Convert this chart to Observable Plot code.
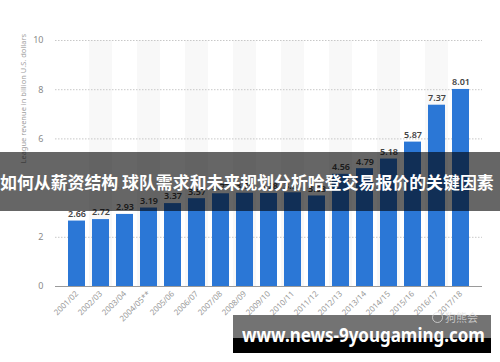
<!DOCTYPE html>
<html>
<head>
<meta charset="utf-8">
<script src="https://cdn.jsdelivr.net/npm/d3@7"></script>
<script src="https://cdn.jsdelivr.net/npm/@observablehq/plot@0.6"></script>
<style>
  html, body { margin: 0; padding: 0; background: #fff; }
  #wrap { position: relative; width: 500px; height: 362px; overflow: hidden; font-family: "Noto Sans", "Open Sans", sans-serif; }
  #banner { position: absolute; left: 0; top: 152px; width: 500px; height: 59px; background: rgba(0,0,0,0.6);
    color: #fff; font-family: "Noto Sans CJK SC", sans-serif; font-weight: 700; font-size: 16.9px; line-height: 59px;
    white-space: nowrap; letter-spacing: 0; }
  #foot-gray { position: absolute; left: 233px; top: 315px; width: 258px; height: 23px; background: rgba(0,0,0,0.55); }
  #foot-black { position: absolute; left: 233px; top: 338px; width: 258px; height: 15px; background: #000; }
  #foot-text { position: absolute; left: 242px; top: 321px; color: #fff; font-family: "Noto Sans", sans-serif; font-weight: 700;
    font-size: 19.5px; line-height: 28px; white-space: nowrap; transform: scaleX(0.87); transform-origin: left center; }
  #mark { position: absolute; left: 432px; top: 310px; color: rgba(225,225,225,0.75); font-family: "Noto Sans CJK SC", sans-serif;
    font-size: 11px; line-height: 14px; white-space: nowrap; }
  #mark span.c { display: inline-block; width: 9px; height: 9px; border: 1px solid rgba(225,225,225,0.75); border-radius: 50%; vertical-align: -1px; margin-right: 2px; }
</style>
</head>
<body>
<div id="wrap"></div>
<script>
const seasons = ["2001/02","2002/03","2003/04","2004/05**","2005/06","2006/07","2007/08","2008/09","2009/10","2010/11","2011/12","2012/13","2013/14","2014/15","2015/16","2016/17","2017/18"];
const revenue = [2.66, 2.72, 2.93, 3.19, 3.37, 3.57, 3.77, 3.79, 3.78, 3.81, 3.68, 4.56, 4.79, 5.18, 5.87, 7.37, 8.01];
const yTicks = [0, 2, 4, 6, 8, 10];
const yLabel = "League revenue in billion U.S. dollars";
const bannerText = "如何从薪资结构 球队需求和未来规划分析哈登交易报价的关键因素";
const footText = "www.news-9yougaming.com";
const markText = "狗熊会";

const data = seasons.map((s, i) => ({season: s, value: revenue[i], i}));
const bands = data.filter(d => d.i % 2 === 1);

const chart = Plot.plot({
  width: 500,
  height: 362,
  marginLeft: 55,
  marginRight: 18,
  marginTop: 40,
  marginBottom: 76,
  style: {fontFamily: "'Noto Sans', sans-serif", background: "#fff"},
  x: {domain: seasons, padding: 0.3, label: null},
  y: {domain: [0, 10], ticks: yTicks, label: null},
  marks: [
    Plot.barY(bands, {x: "season", y1: 0, y2: 10, fill: "#f8f8f8", insetLeft: -3, insetRight: -3}),
    Plot.ruleY(yTicks.filter(t => t > 0), {stroke: "#c8c8c8", strokeDasharray: "1.5,1.5", strokeWidth: 1}),
    Plot.barY(data, {x: "season", y: "value", fill: "#2b77d6"}),
    Plot.ruleY([0], {stroke: "#9a9a9a", strokeWidth: 1}),
    Plot.text(data, {x: "season", y: "value", text: d => d.value.toFixed(2), dy: -7, fontSize: 9, fontWeight: 600, fill: "#444"}),
    Plot.axisY({ticks: yTicks, tickSize: 0, tickPadding: 12, fontSize: 9, color: "#8a8a8a", label: null}),
    Plot.axisX({tickSize: 0, tickRotate: -45, tickPadding: 6, fontSize: 8, color: "#9a9a9a", label: null}),
    Plot.text([yLabel], {frameAnchor: "left", dx: -32, rotate: -90, fontSize: 7.5, fill: "#a0a0a0"})
  ]
});

const wrap = document.getElementById("wrap");
wrap.appendChild(chart);

const banner = document.createElement("div");
banner.id = "banner";
banner.textContent = bannerText;
wrap.appendChild(banner);

const fg = document.createElement("div"); fg.id = "foot-gray"; wrap.appendChild(fg);
const fb = document.createElement("div"); fb.id = "foot-black"; wrap.appendChild(fb);
const mk = document.createElement("div"); mk.id = "mark";
mk.innerHTML = '<span class="c"></span>';
mk.appendChild(document.createTextNode(markText));
wrap.appendChild(mk);
const ft = document.createElement("div"); ft.id = "foot-text"; ft.textContent = footText; wrap.appendChild(ft);
</script>
</body>
</html>
